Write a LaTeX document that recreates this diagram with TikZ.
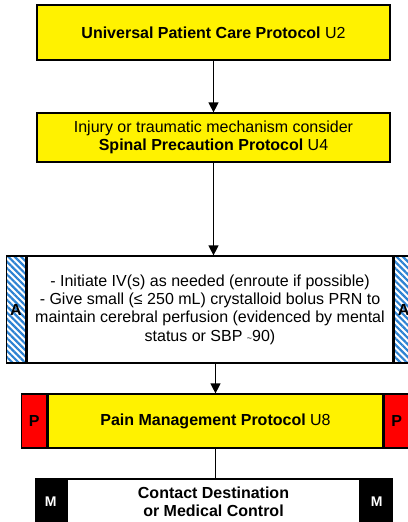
\documentclass[tikz,border=0pt]{standalone}
\usepackage{fontspec}
\setmainfont{Liberation Sans}
\usetikzlibrary{arrows.meta,patterns.meta}

\definecolor{tabblue}{RGB}{45,130,210}

\tikzset{
  stepbox/.style={draw, line width=1.2pt, align=center, inner sep=0pt},
  tab/.style={draw, line width=1.2pt, inner sep=0pt, font=\fontsize{16}{18}\selectfont\bfseries},
  flow/.style={line width=1.2pt, -{Triangle[width=10pt,length=10pt]}},
}

\begin{document}
\begin{tikzpicture}[x=1pt,y=-1pt]
        \tikzstyle{every node}=[font=\fontsize{16}{18.4}\selectfont]
        \useasboundingbox (0,0) rectangle (407,522);

        \node[stepbox, fill=yellow, minimum width=353pt, minimum height=55pt] (upc) at (213.5,32.5)
            {\textbf{Universal Patient Care Protocol} U2};

        \node[stepbox, fill=yellow, minimum width=353pt, minimum height=49pt] (spine) at (213.5,137.5)
            {Injury or traumatic mechanism consider\\ \textbf{Spinal Precaution Protocol} U4};

        % IV / fluid box with hatched A tabs
        \node[stepbox, fill=white, minimum width=366pt, minimum height=107pt] (iv) at (210,309.5)
            {- Initiate IV(s) as needed (enroute if possible)\\
             - Give small (≤ 250 mL) crystalloid bolus PRN to\\
             maintain cerebral perfusion (evidenced by mental\\
             status or SBP {\small\textasciitilde}90)};
        \node[tab, anchor=east, minimum width=19pt, minimum height=107pt,
              pattern={Lines[angle=-45,distance=4.5pt,line width=2.2pt]}, pattern color=tabblue] (ivL) at (iv.west) {A};
        \node[tab, anchor=west, minimum width=19pt, minimum height=107pt,
              pattern={Lines[angle=-45,distance=4.5pt,line width=2.2pt]}, pattern color=tabblue] (ivR) at (iv.east) {A};

        % pain box with red P tabs
        \node[stepbox, fill=yellow, minimum width=335pt, minimum height=54pt] (pain) at (215.5,421)
            {\textbf{Pain Management Protocol} U8};
        \node[tab, fill=red, anchor=east, minimum width=25pt, minimum height=54pt] (painL) at (pain.west) {P};
        \node[tab, fill=red, anchor=west, minimum width=25pt, minimum height=54pt] (painR) at (pain.east) {P};

        % contact box with black M tabs
        \node[stepbox, fill=white, minimum width=293pt, minimum height=46pt] (contact) at (213.5,502)
            {\textbf{Contact Destination}\\ \textbf{or Medical Control}};
        \node[tab, fill=black, text=white, anchor=east, minimum width=30pt, minimum height=46pt,
              font=\fontsize{14}{16}\selectfont\bfseries] (contactL) at (contact.west) {M};
        \node[tab, fill=black, text=white, anchor=west, minimum width=31pt, minimum height=46pt,
              font=\fontsize{14}{16}\selectfont\bfseries] (contactR) at (contact.east) {M};

        \draw[flow] (upc.south) -- (spine.north);
        \draw[flow] (spine.south) -- (spine.south |- iv.north);
        \draw[flow] (iv.south -| pain.north) -- (pain.north);
        \draw[line width=1.2pt] (pain.south) -- (pain.south |- contact.north);
    \end{tikzpicture}
\end{document}
